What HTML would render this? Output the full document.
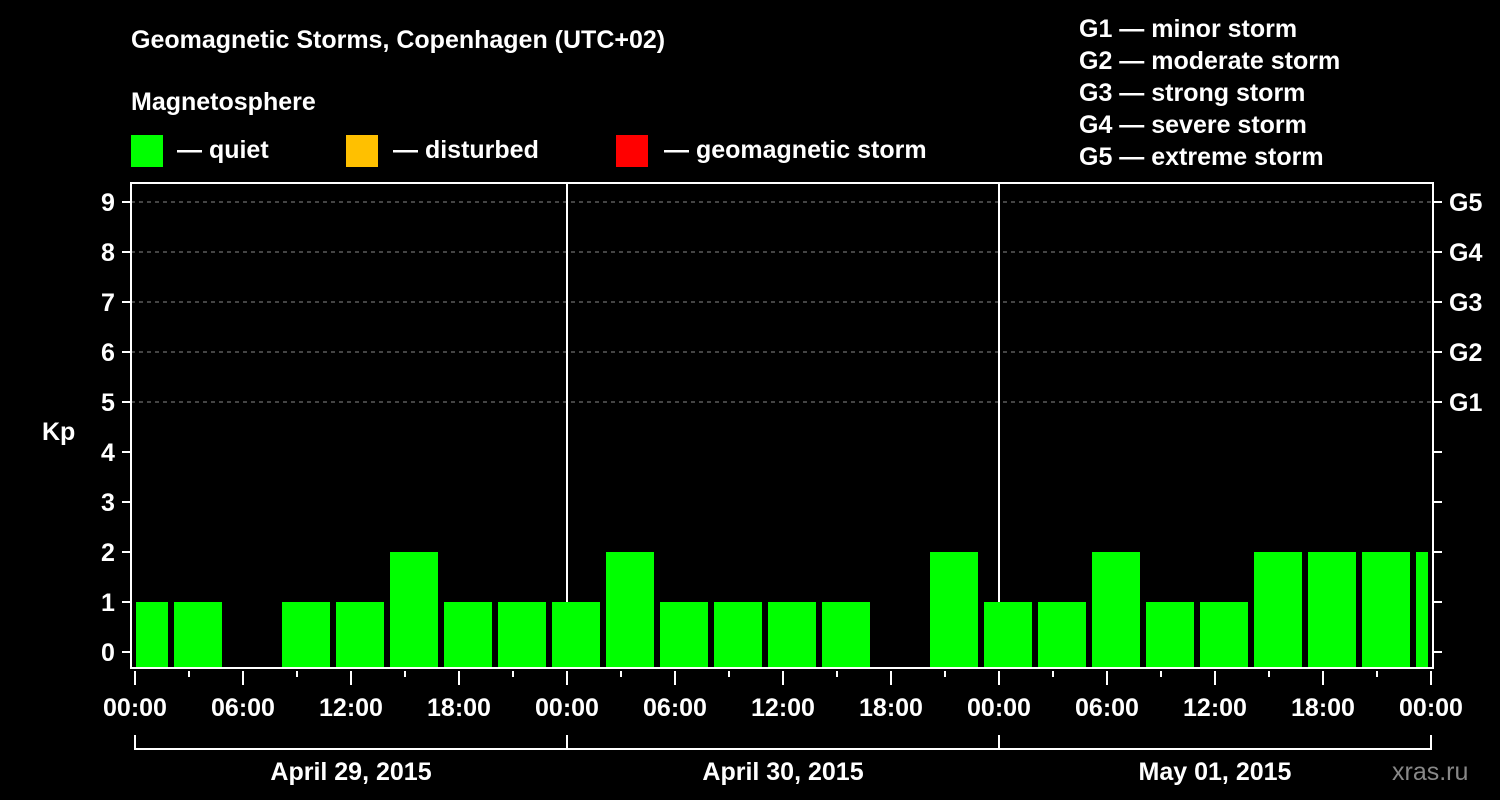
<!DOCTYPE html>
<html><head><meta charset="utf-8"><style>
html,body{margin:0;padding:0;background:#000;}
svg{display:block;font-family:"Liberation Sans",Arial,sans-serif;font-weight:bold;}
</style></head><body>
<svg id="chart" width="1500" height="800" viewBox="0 0 1500 800">
<text x="131" y="48" fill="#fff" font-size="25">Geomagnetic Storms, Copenhagen (UTC+02)</text>
<text x="131" y="110" fill="#fff" font-size="25">Magnetosphere</text>
<g><rect x="131" y="135" width="32" height="32" fill="#00ff00"/><text x="177" y="158" fill="#fff" font-size="25">— quiet</text></g>
<g><rect x="346" y="135" width="32" height="32" fill="#ffc000"/><text x="393" y="158" fill="#fff" font-size="25">— disturbed</text></g>
<g><rect x="616" y="135" width="32" height="32" fill="#ff0000"/><text x="664" y="158" fill="#fff" font-size="25">— geomagnetic storm</text></g>
<g fill="#fff" font-size="25">
<text x="1079" y="37">G1 — minor storm</text>
<text x="1079" y="69">G2 — moderate storm</text>
<text x="1079" y="101">G3 — strong storm</text>
<text x="1079" y="133">G4 — severe storm</text>
<text x="1079" y="165">G5 — extreme storm</text>
</g>
<g id="grid"></g>
<g id="bars"></g>
<g id="axes"></g>
<text x="42" y="440" fill="#fff" font-size="25">Kp</text>
<text x="1392" y="780" fill="#888" font-size="25" font-weight="normal">xras.ru</text>
</svg>
<script>
// Kp values for 3-hour slots; first slot starts at -1h (23:00 of previous day, local time)
const slotStartHours = [-1,2,5,8,11,14,17,20,23,26,29,32,35,38,41,44,47,50,53,56,59,62,65,68,71];
const kpValues = [1,1,0,1,1,2,1,1,1,2,1,1,1,1,0,2,1,1,2,1,1,2,2,2,2];
const yTickLabels = ["0","1","2","3","4","5","6","7","8","9"];
const gLevels = [5,6,7,8,9];
const gLabels = ["G1","G2","G3","G4","G5"];
const hourTickLabels = ["00:00","06:00","12:00","18:00","00:00","06:00","12:00","18:00","00:00","06:00","12:00","18:00","00:00"];
const dayLabels = ["April 29, 2015","April 30, 2015","May 01, 2015"];

const NS="http://www.w3.org/2000/svg";
const L=131,R=1433,T=183,B=668;
const x0=135, pxPerHour=18;
const xs=h=>x0+h*pxPerHour;
const ys=v=>652-v*50;
function mk(tag,attrs,parent){const e=document.createElementNS(NS,tag);for(const k in attrs)e.setAttribute(k,attrs[k]);parent.appendChild(e);return e;}
const grid=document.getElementById('grid'),bars=document.getElementById('bars'),axes=document.getElementById('axes');

gLevels.forEach((v,i)=>{
  const ln=mk('line',{x1:L,x2:R,y1:ys(v),y2:ys(v),stroke:'#888','stroke-dasharray':'4,4','stroke-width':1},grid);
  
  
  const t=mk('text',{x:1449,y:ys(v)+9,fill:'#fff','font-size':25},axes);
  t.textContent=gLabels[i];
  
  
});
[1,2].forEach(d=>{
  const ln=mk('line',{x1:xs(d*24),x2:xs(d*24),y1:T,y2:B,stroke:'#fff','stroke-width':2},grid);
  
  
});

kpValues.forEach((v,i)=>{
  if(v<=0)return;
  let a=xs(slotStartHours[i])+3, b=xs(slotStartHours[i]+3)-3;
  a=Math.max(a,136); b=Math.min(b,1428);
  const r=mk('rect',{x:a,y:ys(v),width:b-a,height:B-ys(v),fill:v>=5?'#ff0000':(v>=4?'#ffc000':'#00ff00')},bars);
  
  
});

// frame
const fr=mk('path',{d:`M${L},${T} H${R} V${B} H${L} Z`,fill:'none',stroke:'#fff','stroke-width':2},axes);



yTickLabels.forEach((lab,v)=>{
  mk('line',{x1:122,x2:L,y1:ys(v),y2:ys(v),stroke:'#fff','stroke-width':2},axes);
  mk('line',{x1:R,x2:1442,y1:ys(v),y2:ys(v),stroke:'#fff','stroke-width':2},axes);
  const t=mk('text',{x:108,y:ys(v)+9,fill:'#fff','font-size':25,'text-anchor':'middle'},axes);
  t.textContent=lab;
  
  
});

for(let h=0;h<=72;h+=3){
  const major=h%6===0;
  mk('line',{x1:xs(h),x2:xs(h),y1:B+3,y2:major?685:677,stroke:'#fff','stroke-width':2},axes);
}
hourTickLabels.forEach((lab,i)=>{
  const t=mk('text',{x:xs(i*6),y:716,fill:'#fff','font-size':25,'text-anchor':'middle'},axes);
  t.textContent=lab;
  
  
});
const br=mk('path',{d:`M${xs(0)},735 V749 H${xs(72)} V735 M${xs(24)},735 V749 M${xs(48)},735 V749`,fill:'none',stroke:'#fff','stroke-width':2},axes);


dayLabels.forEach((lab,i)=>{
  const t=mk('text',{x:xs(i*24+12),y:780,fill:'#fff','font-size':25,'text-anchor':'middle'},axes);
  t.textContent=lab;
  
  
});
</script>
</body></html>
